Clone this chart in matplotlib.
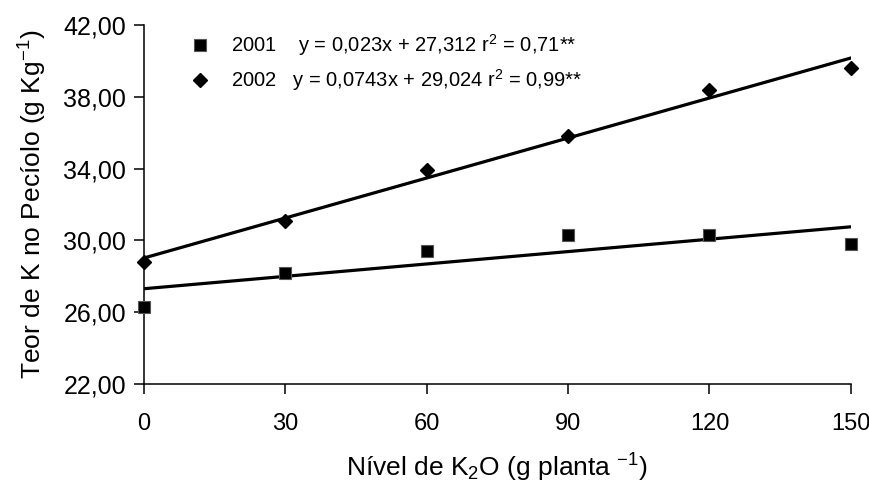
import numpy as np
import matplotlib
matplotlib.use("Agg")
import matplotlib.pyplot as plt
from matplotlib.ticker import FuncFormatter

plt.rcParams['font.family'] = ['Liberation Sans', 'DejaVu Sans']
plt.rcParams['mathtext.fontset'] = 'custom'
plt.rcParams['mathtext.rm'] = 'Liberation Sans'
plt.rcParams['mathtext.it'] = 'Liberation Sans:italic'

# doses of K2O (g planta-1)
doses = [0, 30, 60, 90, 120, 150]
teor_2001 = [26.3, 28.2, 29.4, 30.3, 30.3, 29.8]
teor_2002 = [28.8, 31.1, 33.9, 35.8, 38.4, 39.6]

# regression coefficients printed on the chart
coef_2001 = (0.023, 27.312)
coef_2002 = (0.0743, 29.024)

y_ticks = [22, 26, 30, 34, 38, 42]
x_ticks = [0, 30, 60, 90, 120, 150]

fig = plt.figure(figsize=(8.7, 4.93), dpi=100)
ax = fig.add_axes([0.1655, 0.221, 0.8125, 0.728])

xl = np.array([0, 150])
ax.plot(xl, coef_2001[0] * xl + coef_2001[1], color='black', lw=2.3, zorder=2)
ax.plot(xl, coef_2002[0] * xl + coef_2002[1], color='black', lw=2.3, zorder=2)

lbl1 = '2001    y = 0,023x + 27,312 r$^{2}$ = 0,71**'
lbl2 = '2002   y = 0,0743x + 29,024 r$^{2}$ = 0,99**'
ax.plot(doses, teor_2001, 's', color='black', markeredgecolor='#555555',
        markeredgewidth=0.8, markersize=8.5, clip_on=False, zorder=3, label=lbl1)
ax.plot(doses, teor_2002, 'D', color='black', markersize=7.5,
        clip_on=False, zorder=3, label=lbl2)

ax.set_xlim(0, 150)
ax.set_ylim(22, 42)
ax.set_xticks(x_ticks)
ax.set_yticks(y_ticks)
ax.yaxis.set_major_formatter(FuncFormatter(lambda v, p: f'{v:.2f}'.replace('.', ',')))

for s in ['top', 'right']:
    ax.spines[s].set_visible(False)
for s in ['left', 'bottom']:
    ax.spines[s].set_linewidth(1.1)
    ax.spines[s].set_color('black')
ax.tick_params(direction='out', length=7, width=1.1, colors='black')
ax.tick_params(axis='x', pad=14, labelsize=17)
ax.tick_params(axis='y', pad=6, labelsize=18)

ax.set_xlabel('Nível de K$_{2}$O (g planta $^{-1}$)', fontsize=19, labelpad=12)
ax.set_ylabel('Teor de K no Pecíolo (g Kg$^{-1}$)', fontsize=19, labelpad=10)

leg = ax.legend(loc='upper left', bbox_to_anchor=(0.04, 1.03), frameon=False,
                fontsize=14.5, handletextpad=1.0, labelspacing=0.45,
                handlelength=1.0)

fig.savefig('out.png', dpi=100)
